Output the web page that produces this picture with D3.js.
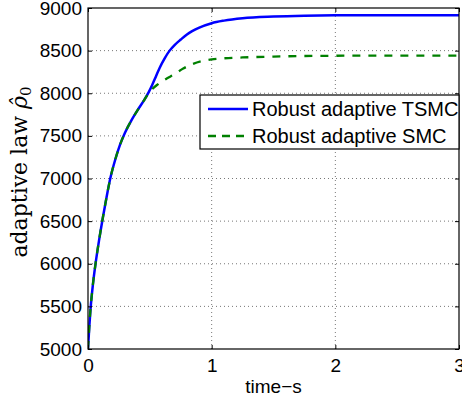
<!DOCTYPE html>
<html><head><meta charset="utf-8">
<script src="https://cdn.jsdelivr.net/npm/d3@7"></script>
<style>body{margin:0;background:#fff}svg{display:block}</style>
</head><body>
<svg id="c" width="462" height="400"></svg>
<script>
const timeTSMC = [0,0.01,0.02,0.04,0.06,0.09,0.12,0.15,0.18,0.22,0.26,0.30,0.35,0.40,0.45,0.49,0.52,0.55,0.58,0.62,0.66,0.70,0.75,0.80,0.90,1.0,1.1,1.25,1.5,1.75,2.0,2.5,3.0];
const rhoTSMC  = [5000,5250,5460,5760,5990,6280,6540,6780,7000,7220,7400,7540,7680,7800,7910,8010,8100,8200,8300,8410,8500,8565,8630,8690,8770,8822,8852,8880,8900,8910,8914,8916,8916];
const timeSMC  = [0,0.01,0.02,0.04,0.06,0.09,0.12,0.15,0.18,0.22,0.26,0.30,0.35,0.40,0.45,0.49,0.52,0.56,0.60,0.64,0.70,0.77,0.85,1.0,1.1,1.25,1.5,1.75,2.0,2.5,3.0];
const rhoSMC   = [5000,5250,5460,5760,5990,6280,6540,6780,7000,7220,7400,7540,7680,7800,7910,8000,8050,8100,8140,8175,8225,8290,8345,8398,8410,8420,8430,8437,8440,8442,8442];
const xTicks = [0,1,2,3];
const yTicks = [5000,5500,6000,6500,7000,7500,8000,8500,9000];
const seriesNames = ["Robust adaptive TSMC","Robust adaptive SMC"];
const xLabel = "time\u2212s";

const svg = d3.select("#c");
const L=88,R=459,T=8,B=349;
const x = d3.scaleLinear().domain([0,3]).range([L,R]);
const y = d3.scaleLinear().domain([5000,9000]).range([B,T]);
const font = "'Liberation Sans', Arial, sans-serif";

svg.append("defs").append("clipPath").attr("id","pc").append("rect")
  .attr("x",L).attr("y",T).attr("width",R-L).attr("height",B-T);

// grid
const g = svg.append("g");
g.selectAll(".gx").data(xTicks.slice(1,-1)).enter().append("line")
  .attr("x1",d=>x(d)).attr("x2",d=>x(d)).attr("y1",T).attr("y2",B)
  .attr("stroke","#777").attr("stroke-dasharray","1,3").attr("stroke-width",1);
g.selectAll(".gy").data(yTicks.slice(1,-1)).enter().append("line")
  .attr("x1",L).attr("x2",R).attr("y1",d=>y(d)).attr("y2",d=>y(d))
  .attr("stroke","#777").attr("stroke-dasharray","1,3").attr("stroke-width",1);

// lines
const line = (tt,vv)=>d3.line().x((d,i)=>x(tt[i])).y(d=>y(d)).curve(d3.curveMonotoneX)(vv);
svg.append("path").attr("d",line(timeTSMC,rhoTSMC)).attr("clip-path","url(#pc)")
  .attr("fill","none").attr("stroke","#0000ff").attr("stroke-width",2.5);
svg.append("path").attr("d",line(timeSMC,rhoSMC)).attr("clip-path","url(#pc)")
  .attr("fill","none").attr("stroke","#008000").attr("stroke-width",2.3).attr("stroke-dasharray","8,8");

// axes
const ax = d3.axisBottom(x).tickValues(xTicks).tickSize(-4).tickPadding(10).tickFormat(d3.format("d"));
const axT = d3.axisTop(x).tickValues(xTicks).tickSize(-4).tickFormat("");
const ay = d3.axisLeft(y).tickValues(yTicks).tickSize(-4).tickPadding(6).tickFormat(d3.format("d"));
const ayR = d3.axisRight(y).tickValues(yTicks).tickSize(-4).tickFormat("");
function style(sel){
  sel.select(".domain").remove();
  sel.selectAll("line").attr("stroke","#000");
  sel.selectAll("text").attr("font-family",font).attr("font-size","19px").attr("fill","#000");
}
svg.append("g").attr("transform",`translate(0,${B})`).call(ax).call(style);
svg.append("g").attr("transform",`translate(0,${T})`).call(axT).call(style);
svg.append("g").attr("transform",`translate(${L},0)`).call(ay).call(style);
svg.append("g").attr("transform",`translate(${R},0)`).call(ayR).call(style);
svg.append("rect").attr("x",L).attr("y",T).attr("width",R-L).attr("height",B-T)
  .attr("fill","none").attr("stroke","#000").attr("stroke-width",1.2);

// x label
svg.append("text").attr("x",(L+R)/2).attr("y",393).attr("text-anchor","middle")
  .attr("font-family",font).attr("font-size","19px").text(xLabel);

// y label
const yl = svg.append("text").attr("transform","translate(27,172) rotate(-90)")
  .attr("text-anchor","middle").attr("font-family","'DejaVu Serif', serif").attr("font-size","22px");
yl.append("tspan").text("adaptive law ");
yl.append("tspan").attr("font-style","italic").text("\u03C1\u0302");
yl.append("tspan").attr("font-size","15px").attr("dy",4).text("0");

// legend
const lg = svg.append("g");
lg.append("rect").attr("x",200).attr("y",95).attr("width",259).attr("height",54)
  .attr("fill","#fff").attr("stroke","#000").attr("stroke-width",1.2);
const ly = [109,136];
const cols = ["#0000ff","#008000"];
seriesNames.forEach((n,i)=>{
  lg.append("line").attr("x1",208).attr("x2",248).attr("y1",ly[i]).attr("y2",ly[i])
    .attr("stroke",cols[i]).attr("stroke-width",i?2.3:2.5).attr("stroke-dasharray",i?"8,6":null);
  lg.append("text").attr("x",252).attr("y",ly[i]).attr("dy","0.35em")
    .attr("font-family",font).attr("font-size","20px").text(n);
});
</script>
</body></html>
